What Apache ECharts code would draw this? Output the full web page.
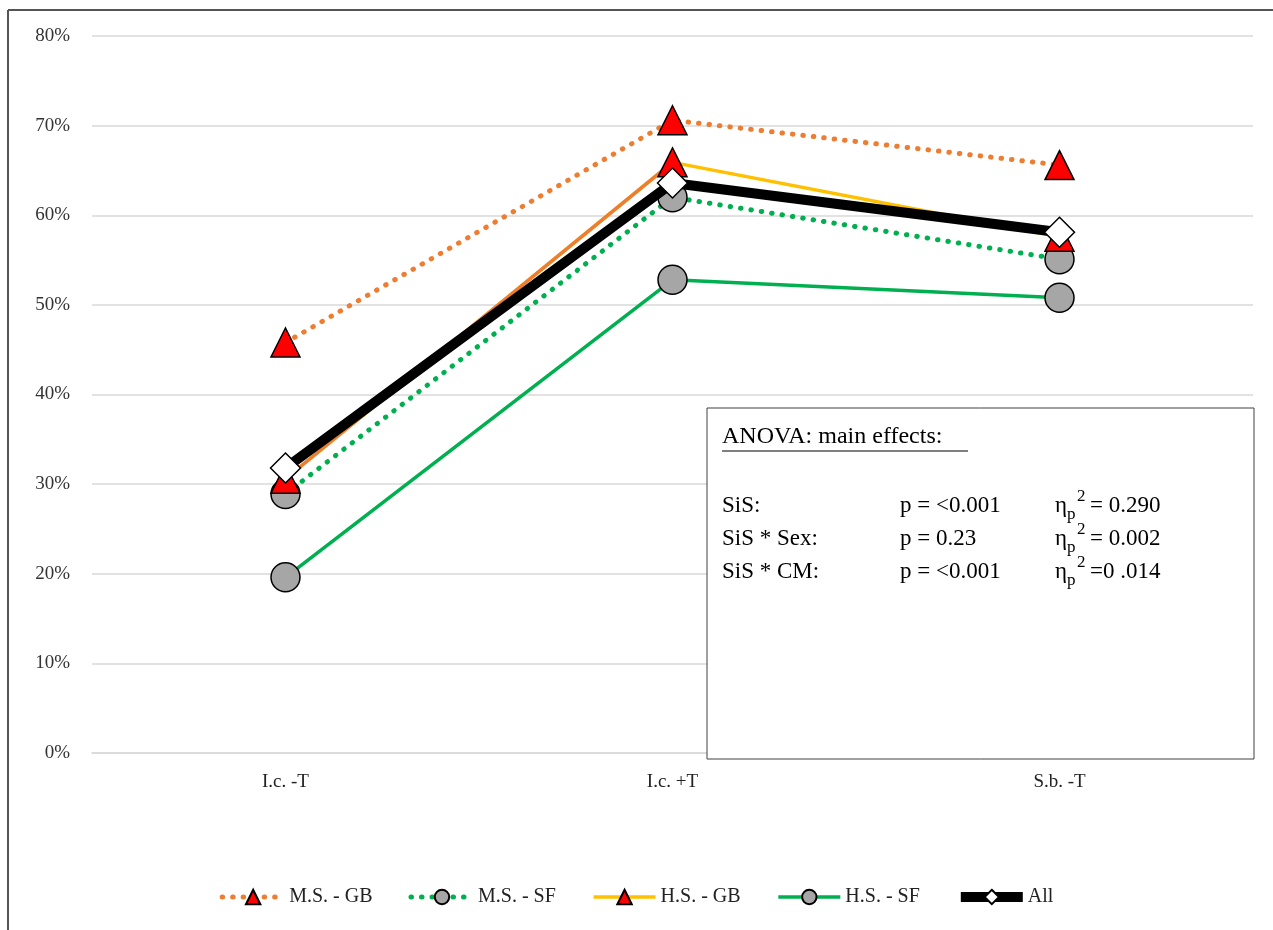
<!DOCTYPE html>
<html>
<head>
<meta charset="utf-8">
<script src="https://cdn.jsdelivr.net/npm/echarts@6/dist/echarts.min.js"></script>
<style>html,body{margin:0;padding:0;background:#fff;}#c{width:1273px;height:930px;}</style>
</head>
<body>
<div id="c"></div>
<script>
const categories = ['I.c. -T', 'I.c. +T', 'S.b. -T'];
const msGB = [45.8, 70.6, 65.6];
const msSF = [28.9, 62.0, 55.1];
const hsGB = [30.6, 65.9, 57.6];
const hsSF = [19.6, 52.8, 50.8];
const all = [31.8, 63.6, 58.1];
const yTicks = { min: 0, max: 80, interval: 10 };
const anovaRows = [
  ['SiS:', 'p = <0.001', '= 0.290'],
  ['SiS * Sex:', 'p = 0.23', '= 0.002'],
  ['SiS * CM:', 'p = <0.001', '=0 .014']
];

const FONT = '"Liberation Serif", "DejaVu Serif", serif';
const chart = echarts.init(document.getElementById('c'));

const graphics = [
  { type: 'line', shape: { x1: 8, y1: 10, x2: 1273, y2: 10 }, style: { stroke: '#555', lineWidth: 2 } },
  { type: 'line', shape: { x1: 8, y1: 10, x2: 8, y2: 930 }, style: { stroke: '#555', lineWidth: 2 } },
  { type: 'rect', shape: { x: 707, y: 408, width: 547, height: 351 }, style: { fill: '#fff', stroke: '#404040', lineWidth: 1 }, z: 100 },
  { type: 'text', x: 722, y: 437, style: { text: 'ANOVA: main effects:', font: '24px ' + FONT, fill: '#000', verticalAlign: 'middle' }, z: 101 },
  { type: 'line', shape: { x1: 722, y1: 451, x2: 968, y2: 451 }, style: { stroke: '#000', lineWidth: 1.2 }, z: 101 }
];
anovaRows.forEach((r, i) => {
  const y = 506 + i * 33;
  graphics.push({ type: 'text', x: 722, y: y, style: { text: r[0], font: '23px ' + FONT, fill: '#000', verticalAlign: 'middle' }, z: 101 });
  graphics.push({ type: 'text', x: 900, y: y, style: { text: r[1], font: '23px ' + FONT, fill: '#000', verticalAlign: 'middle' }, z: 101 });
  graphics.push({ type: 'text', x: 1055, y: y, style: { text: 'η', font: '23px ' + FONT, fill: '#000', verticalAlign: 'middle' }, z: 101 });
  graphics.push({ type: 'text', x: 1067, y: y + 9, style: { text: 'p', font: '17px ' + FONT, fill: '#000', verticalAlign: 'middle' }, z: 101 });
  graphics.push({ type: 'text', x: 1077, y: y - 9, style: { text: '2', font: '17px ' + FONT, fill: '#000', verticalAlign: 'middle' }, z: 101 });
  graphics.push({ type: 'text', x: 1090, y: y, style: { text: r[2], font: '23px ' + FONT, fill: '#000', verticalAlign: 'middle' }, z: 101 });
});

const dotted = { type: [0.5, 10], cap: 'round', width: 5 };
const triStyle = { color: '#FF0000', borderColor: '#000', borderWidth: 1.5 };
const circStyle = { color: '#A6A6A6', borderColor: '#000', borderWidth: 1.5 };

chart.setOption({
  animation: false,
  backgroundColor: '#fff',
  grid: { left: 92, right: 20, top: 36, bottom: 177 },
  xAxis: {
    type: 'category', data: categories, boundaryGap: true,
    axisLine: { show: true, lineStyle: { color: '#d9d9d9', width: 1.5 } },
    axisTick: { show: false },
    axisLabel: { fontFamily: FONT, fontSize: 19, color: '#222', margin: 20 }
  },
  yAxis: {
    type: 'value', min: yTicks.min, max: yTicks.max, interval: yTicks.interval,
    axisLine: { show: false }, axisTick: { show: false },
    splitLine: { lineStyle: { color: '#d9d9d9', width: 1.5 } },
    axisLabel: { fontFamily: FONT, fontSize: 19, color: '#333', margin: 22, formatter: '{value}%' }
  },
  legend: {
    bottom: 18, left: 'center', itemWidth: 62, itemHeight: 18, itemGap: 36,
    lineStyle: { width: 'inherit' },
    textStyle: { fontFamily: FONT, fontSize: 20, color: '#222' },
    data: ['M.S. - GB', 'M.S. - SF', 'H.S. - GB', 'H.S. - SF', 'All']
  },
  graphic: graphics,
  series: [
    { name: 'M.S. - GB', type: 'line', data: msGB, symbol: 'triangle', symbolSize: 29,
      lineStyle: Object.assign({ color: '#ED7D31' }, dotted), itemStyle: triStyle, z: 2 },
    { name: 'M.S. - SF', type: 'line', data: msSF, symbol: 'circle', symbolSize: 29,
      lineStyle: Object.assign({ color: '#00B050' }, dotted), itemStyle: circStyle, z: 3 },
    { name: 'H.S. - GB', type: 'line', data: hsGB, symbol: 'triangle', symbolSize: 29,
      lineStyle: { color: '#FFC000', width: 3.5 }, itemStyle: triStyle, z: 4 },
    { name: 'H.S. - GB seg', type: 'line', data: [hsGB[0], hsGB[1], null], symbol: 'none',
      lineStyle: { color: '#ED7D31', width: 3.5 }, z: 4 },
    { name: 'H.S. - SF', type: 'line', data: hsSF, symbol: 'circle', symbolSize: 29,
      lineStyle: { color: '#00B050', width: 3.5 }, itemStyle: circStyle, z: 5 },
    { name: 'All', type: 'line', data: all, symbol: 'diamond', symbolSize: 30,
      lineStyle: { color: '#000', width: 10 }, itemStyle: { color: '#fff', borderColor: '#000', borderWidth: 1.5 }, z: 6 }
  ]
});
</script>
</body>
</html>
